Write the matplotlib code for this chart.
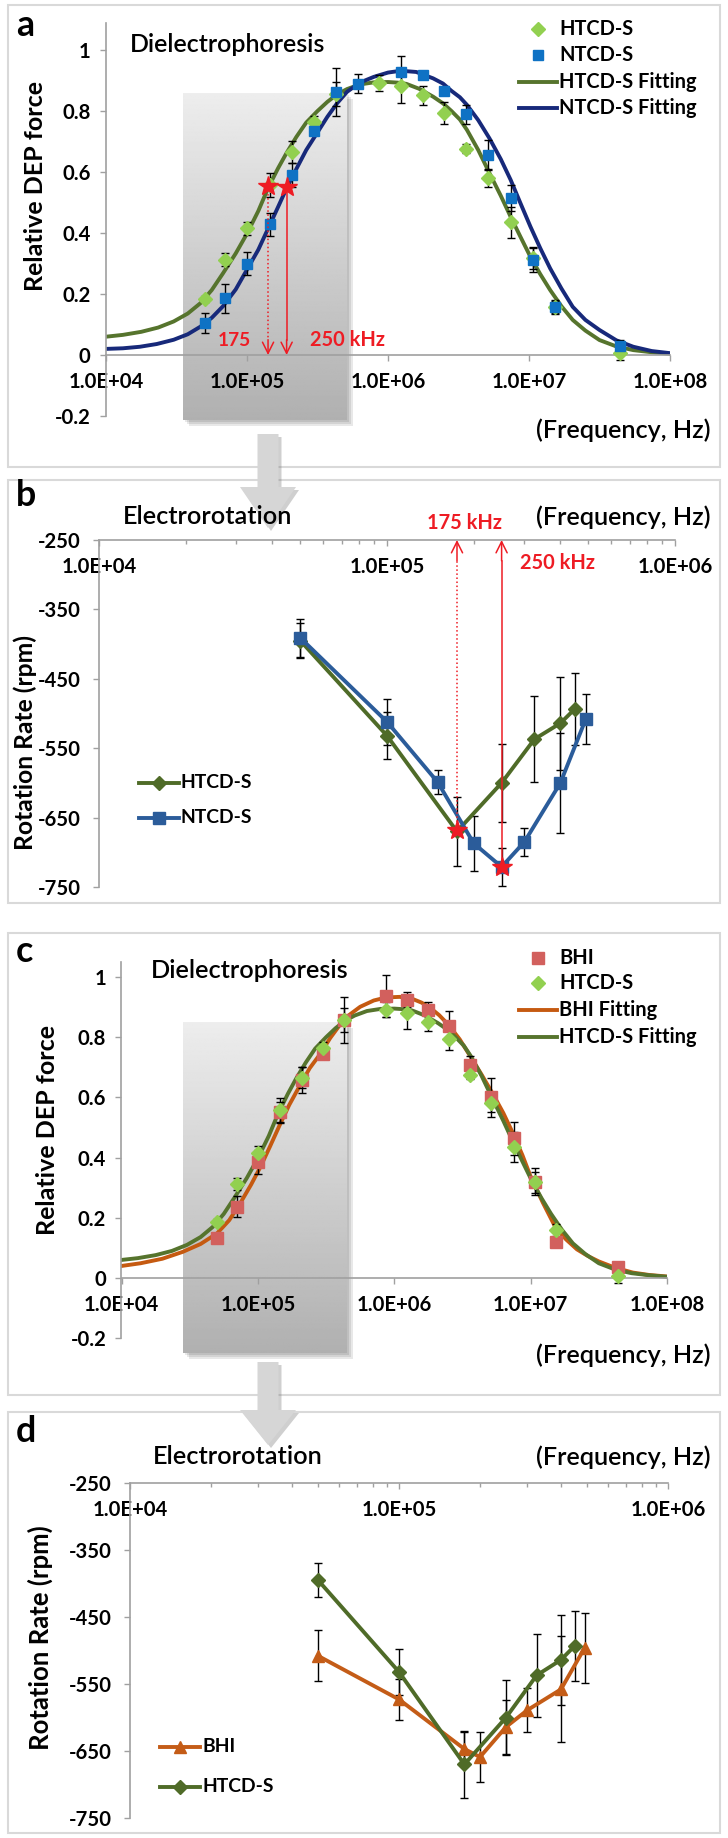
import numpy as np
import matplotlib
matplotlib.use('Agg')
import matplotlib.pyplot as plt
from matplotlib.patches import Rectangle, Polygon
from matplotlib.lines import Line2D
from matplotlib.ticker import FixedLocator, FuncFormatter, NullLocator, LogLocator, NullFormatter

# ---- data ---------------------------------------------------------------
# DEP spectra (panels a and c), frequencies in Hz
dep_freq = [50e3, 70e3, 100e3, 145e3, 210e3, 300e3, 430e3, 615e3, 870e3,
            1.23e6, 1.76e6, 2.5e6, 3.6e6, 5.15e6, 7.5e6, 10.7e6, 15.3e6, 44e6]
htcd_dep = [0.185, 0.313, 0.415, 0.558, 0.665, 0.763, 0.856, np.nan, 0.892,
            0.882, 0.851, 0.793, 0.676, 0.580, 0.435, 0.318, 0.158, 0.005]
htcd_dep_err = [0.01, 0.02, 0.022, 0.04, 0.035, 0.02, 0.04, 0.0, 0.025,
                0.055, 0.03, 0.035, 0.015, 0.03, 0.05, 0.035, 0.02, 0.02]
ntcd_dep = [0.106, 0.186, 0.300, 0.429, 0.590, 0.734, 0.863, 0.890, np.nan,
            0.929, 0.918, 0.867, 0.789, 0.656, 0.514, 0.311, 0.157, 0.030]
ntcd_dep_err = [0.033, 0.048, 0.037, 0.038, 0.04, 0.01, 0.078, 0.03, 0.0,
                0.052, 0.01, 0.01, 0.03, 0.048, 0.043, 0.04, 0.022, 0.02]
bhi_dep = [0.132, 0.237, 0.386, 0.550, 0.658, 0.744, 0.858, np.nan, 0.937,
           0.924, 0.890, 0.837, 0.708, 0.600, 0.464, 0.320, 0.121, 0.038]
bhi_dep_err = [0.015, 0.036, 0.04, 0.035, 0.043, 0.01, 0.077, 0.0, 0.07,
               0.025, 0.028, 0.05, 0.028, 0.065, 0.055, 0.044, 0.015, 0.015]

# fitted curves (log10 Hz, relative force)
htcd_fit_dec = [4.00, 4.12, 4.25, 4.37, 4.48, 4.58, 4.67, 4.75, 4.83, 4.92, 5.00, 5.08,
                5.15, 5.22, 5.28, 5.35, 5.42, 5.50, 5.57, 5.64, 5.71, 5.80, 5.90, 6.00,
                6.07, 6.13, 6.22, 6.32, 6.39, 6.45, 6.51, 6.56, 6.64, 6.72, 6.80, 6.87,
                6.94, 7.01, 7.08, 7.15, 7.23, 7.31, 7.40, 7.50, 7.62, 7.74, 7.87, 8.00]
htcd_fit_val = [0.060, 0.066, 0.076, 0.090, 0.110, 0.136, 0.170, 0.213, 0.268, 0.333,
                0.398, 0.472, 0.548, 0.612, 0.662, 0.715, 0.762, 0.800, 0.830, 0.855,
                0.872, 0.887, 0.894, 0.895, 0.893, 0.889, 0.873, 0.847, 0.825, 0.800,
                0.772, 0.738, 0.672, 0.596, 0.522, 0.453, 0.387, 0.322, 0.265, 0.213,
                0.160, 0.115, 0.080, 0.049, 0.028, 0.016, 0.009, 0.004]
ntcd_fit_dec = [4.00, 4.12, 4.24, 4.36, 4.48, 4.58, 4.67, 4.75, 4.83, 4.92, 5.00, 5.08,
                5.15, 5.22, 5.28, 5.35, 5.42, 5.50, 5.57, 5.64, 5.71, 5.80, 5.90, 6.00,
                6.09, 6.20, 6.32, 6.39, 6.45, 6.51, 6.56, 6.64, 6.72, 6.80, 6.87, 6.94,
                7.01, 7.08, 7.15, 7.23, 7.31, 7.40, 7.50, 7.62, 7.74, 7.87, 8.00]
ntcd_fit_val = [0.020, 0.022, 0.027, 0.036, 0.050, 0.068, 0.093, 0.122, 0.160, 0.215,
                0.280, 0.345, 0.415, 0.485, 0.546, 0.610, 0.672, 0.730, 0.781, 0.826,
                0.863, 0.893, 0.912, 0.926, 0.932, 0.928, 0.907, 0.890, 0.866, 0.845,
                0.820, 0.770, 0.710, 0.642, 0.574, 0.497, 0.421, 0.350, 0.284, 0.218,
                0.158, 0.115, 0.082, 0.048, 0.027, 0.013, 0.006]
bhi_fit_dec = [4.00, 4.14, 4.30, 4.45, 4.58, 4.70, 4.79, 4.87, 4.95, 5.02, 5.09, 5.16,
               5.23, 5.31, 5.38, 5.46, 5.53, 5.60, 5.67, 5.75, 5.85, 5.94, 6.04, 6.14,
               6.20, 6.26, 6.33, 6.40, 6.48, 6.56, 6.64, 6.72, 6.80, 6.87, 6.94, 7.00,
               7.09, 7.18, 7.26, 7.34, 7.42, 7.50, 7.62, 7.75, 7.87, 8.00]
bhi_fit_val = [0.040, 0.049, 0.064, 0.087, 0.113, 0.148, 0.192, 0.248, 0.310, 0.370,
               0.438, 0.508, 0.575, 0.641, 0.697, 0.746, 0.797, 0.840, 0.874, 0.901,
               0.922, 0.932, 0.934, 0.926, 0.915, 0.899, 0.873, 0.840, 0.793, 0.735,
               0.676, 0.614, 0.548, 0.481, 0.408, 0.337, 0.250, 0.170, 0.128, 0.095,
               0.073, 0.055, 0.034, 0.018, 0.010, 0.005]

# crossover markers in panel a
star_a_freq = [141e3, 191e3]
star_a_val = [0.554, 0.552]

# electrorotation (panels b and d), rpm
htcd_rot_freq = [50e3, 100e3, 175e3, 250e3, 325e3, 400e3, 450e3]
htcd_rot = [-395, -532, -670, -600, -537, -514, -493]
htcd_rot_err = [25, 34, 50, 56, 62, 67, 52]
ntcd_rot_freq = [50e3, 100e3, 150e3, 200e3, 250e3, 300e3, 400e3, 490e3]
ntcd_rot = [-391, -512, -599, -687, -721, -685, -600, -508]
ntcd_rot_err = [27, 33, 17, 40, 27, 20, 72, 36]
bhi_rot_freq = [50e3, 100e3, 175e3, 200e3, 250e3, 300e3, 400e3, 490e3]
bhi_rot = [-508, -573, -647, -659, -614, -589, -558, -496]
bhi_rot_err = [38, 31, 25, 38, 40, 33, 79, 52]
star_b_freq = [175e3, 250e3]
star_b_val = [-668, -721]

dep_xticks = [1e4, 1e5, 1e6, 1e7, 1e8]
dep_yticks = [-0.2, 0, 0.2, 0.4, 0.6, 0.8, 1]
dep_ylabels = ['-0.2', '0', '0.2', '0.4', '0.6', '0.8', '1']
rot_xticks = [1e4, 1e5, 1e6]
rot_yticks = [-250, -350, -450, -550, -650, -750]

# ---- style -------------------------------------------------------------
HT_PT = '#92d050'
NT_PT = '#0f72c4'
HT_FIT = '#56742d'
NT_FIT = '#17297a'
BHI_PT = '#d2605d'
BHI_FIT = '#c55a11'
HT_ROT = '#4f6b28'
NT_ROT = '#2b5c9a'
BHI_ROT = '#c45c17'
RED = '#ee1c24'
AXC = '#a0a0a0'

plt.rcParams['font.family'] = ['Lato', 'DejaVu Sans']
plt.rcParams['axes.unicode_minus'] = False

W, H = 728, 1838
fig = plt.figure(figsize=(W / 100, H / 100), dpi=100)
renderer = fig.canvas.get_renderer()


def fx(x):
    return x / W


def fy(y):
    return 1 - y / H


def size_for(s, width, weight='normal'):
    # font size (pt) that makes string s about `width` pixels wide
    t = fig.text(0, 0, s, fontsize=10, fontweight=weight)
    w = t.get_window_extent(renderer=renderer).width
    t.remove()
    return 10 * width / w


TICK_FS = size_for('1.0E+05', 75, 'bold')
TITLE_W = 600


def add_ax(x0, y0, x1, y1, z=2):
    return fig.add_axes([fx(x0), fy(y1), (x1 - x0) / W, (y1 - y0) / H], zorder=z)


def frame(x0, y0, x1, y1):
    fig.add_artist(Rectangle((fx(x0), fy(y1)), (x1 - x0) / W, (y1 - y0) / H,
                             transform=fig.transFigure, fill=False, ec='#d9d9d9',
                             lw=1.5, zorder=0))


def gray_box(x0, y0, x1, y1):
    for off in [2, 4, 6]:
        fig.add_artist(Rectangle((fx(x0 + off), fy(y1 + off)), (x1 - x0) / W, (y1 - y0) / H,
                                 transform=fig.transFigure, fc='black', ec='none',
                                 alpha=0.09, zorder=0.5))
    bax = add_ax(x0, y0, x1, y1, z=1)
    grad = np.linspace(0.93, 0.69, 256)[:, None]
    bax.imshow(grad, cmap='gray', vmin=0, vmax=1, aspect='auto', extent=[0, 1, 0, 1])
    bax.axis('off')


def big_arrow(xc, y_top, y_head, y_tip):
    sw, hw = 10.5, 28
    pts = [(xc - sw, y_top), (xc + sw, y_top), (xc + sw, y_head), (xc + hw, y_head),
           (xc, y_tip), (xc - hw, y_head), (xc - sw, y_head)]
    shadow = [(fx(x + 3), fy(y + 3)) for x, y in pts]
    fig.add_artist(Polygon(shadow, closed=True, transform=fig.transFigure,
                           fc='#777777', ec='none', alpha=0.35, zorder=5))
    fig.add_artist(Polygon([(fx(x), fy(y)) for x, y in pts], closed=True,
                           transform=fig.transFigure, fc='#d6d6d6', ec='none', zorder=6))


def ftext(x, y, s, width=None, fontsize=12, fontweight='normal', **kw):
    kw.setdefault('va', 'center')
    kw.setdefault('zorder', 7)
    if width:
        fontsize = size_for(s, width, fontweight)
    return fig.text(fx(x), fy(y), s, fontsize=fontsize, fontweight=fontweight, **kw)


def legend_row(x0, x1, y, label, color, fs, marker=None, ms=8, line=True):
    xm = (x0 + x1) / 2
    if line:
        fig.add_artist(Line2D([fx(x0), fx(x1)], [fy(y), fy(y)], transform=fig.transFigure,
                              color=color, lw=2.8, zorder=7))
    if marker:
        fig.add_artist(Line2D([fx(xm)], [fy(y)], transform=fig.transFigure, marker=marker,
                              ms=ms, color=color, mec=color, lw=0, zorder=8))
    ftext(x1 + 2, y, label, fontsize=fs, fontweight='bold')


def style_common(ax):
    ax.set_facecolor('none')
    for s in ['top', 'right']:
        ax.spines[s].set_visible(False)
    for s in ['left', 'bottom']:
        ax.spines[s].set_color(AXC)
        ax.spines[s].set_linewidth(1.2)
    for lab in ax.get_xticklabels() + ax.get_yticklabels():
        lab.set_fontweight('bold')


def dep_axes(x0, x1, y_zero, unit, ymax):
    ax = add_ax(x0, y_zero - ymax * unit, x1, y_zero + 0.2 * unit, z=2)
    ax.set_xscale('log')
    ax.set_xlim(1e4, 1e8)
    ax.set_ylim(-0.2, ymax)
    ax.spines['bottom'].set_position(('data', 0))
    ax.xaxis.set_major_locator(FixedLocator(dep_xticks))
    ax.xaxis.set_minor_locator(NullLocator())
    ax.xaxis.set_major_formatter(FuncFormatter(lambda v, p: f'{v:.1E}'))
    ax.set_yticks(dep_yticks)
    ax.set_yticklabels(dep_ylabels)
    ax.tick_params(axis='x', direction='out', length=4, width=1, color=AXC,
                   labelsize=TICK_FS, pad=8)
    ax.tick_params(axis='y', direction='out', length=4, width=1, color=AXC,
                   labelsize=TICK_FS, pad=7)
    style_common(ax)
    return ax


def rot_axes(x0, x1, y_top, y_bot):
    ax = add_ax(x0, y_top, x1, y_bot, z=2)
    ax.set_xscale('log')
    ax.set_xlim(1e4, 1e6)
    ax.set_ylim(-750, -250)
    ax.spines['bottom'].set_position(('data', -250))
    ax.xaxis.set_major_locator(FixedLocator(rot_xticks))
    ax.xaxis.set_minor_locator(LogLocator(base=10, subs=np.arange(2, 10)))
    ax.xaxis.set_minor_formatter(NullFormatter())
    ax.xaxis.set_major_formatter(FuncFormatter(lambda v, p: f'{v:.1E}'))
    ax.set_yticks(rot_yticks)
    ax.tick_params(axis='x', which='major', direction='out', length=4, width=1,
                   color=AXC, labelsize=TICK_FS, pad=8)
    ax.tick_params(axis='x', which='minor', direction='out', length=3, width=1, color=AXC)
    ax.tick_params(axis='y', direction='out', length=4, width=1, color=AXC,
                   labelsize=TICK_FS, pad=9)
    style_common(ax)
    return ax


def ebar(ax, f, v, e, z=3):
    ax.errorbar(f, v, yerr=e, fmt='none', ecolor='black', elinewidth=1,
                capsize=3, capthick=1, zorder=z)


def red_arrow(ax, f, v_from, v_to, v_stub, dotted):
    ax.plot([f, f], [v_from, v_stub], color=RED, lw=1.1, ls=':' if dotted else '-', zorder=5)
    ax.annotate('', xy=(f, v_to), xytext=(f, v_stub),
                arrowprops=dict(arrowstyle='->', color=RED, lw=1.1, shrinkA=0, shrinkB=0,
                                mutation_scale=20), zorder=5)


LEG_FS_DEP = size_for('HTCD-S Fitting', 137, 'bold')
LEG_FS_ROT = size_for('HTCD-S', 72, 'bold')
LETTER_FS = size_for('a', 18, 'bold')
RED_FS = size_for('250 kHz', 75, 'bold')

# ---- frames, boxes, arrows -----------------------------------------------
frame(8, 5, 720, 467)
frame(8, 480, 720, 903)
frame(8, 933, 720, 1395)
frame(8, 1412, 720, 1833)

gray_box(183, 93, 347, 420)
gray_box(183, 1022, 347, 1353)
big_arrow(268, 434, 487, 528)
big_arrow(268, 1362, 1410, 1445)

# ---- panel a -----------------------------------------------------------
ax = dep_axes(106, 670, 355, 305, 1.09)
ax.plot(10 ** np.array(htcd_fit_dec), htcd_fit_val, color=HT_FIT, lw=2.8, zorder=2)
ax.plot(10 ** np.array(ntcd_fit_dec), ntcd_fit_val, color=NT_FIT, lw=2.8, zorder=2)
ebar(ax, dep_freq, htcd_dep, htcd_dep_err)
ebar(ax, dep_freq, ntcd_dep, ntcd_dep_err)
ax.plot(dep_freq, htcd_dep, 'D', color=HT_PT, ms=7, lw=0, zorder=4)
ax.plot(dep_freq, ntcd_dep, 's', color=NT_PT, ms=7.5, lw=0, zorder=4)
for i, (f, v) in enumerate(zip(star_a_freq, star_a_val)):
    red_arrow(ax, f, v, 0, 0.05, i == 0)
ax.plot(star_a_freq, star_a_val, '*', color=RED, ms=15, lw=0, zorder=6)

ftext(16, 26, 'a', fontsize=LETTER_FS, fontweight='bold')
ftext(130, 45, 'Dielectrophoresis', width=195, fontweight=TITLE_W)
ftext(710, 430, '(Frequency, Hz)', width=174, fontweight=TITLE_W, ha='right')
ftext(36, 186, 'Relative DEP force', width=210, fontweight='bold', rotation=90, ha='center')
ftext(218, 340, '175', width=33, fontweight='bold', color=RED)
ftext(310, 340, '250 kHz', fontsize=RED_FS, fontweight='bold', color=RED)
legend_row(519, 557, 29, 'HTCD-S', HT_PT, LEG_FS_DEP, marker='D', ms=7, line=False)
legend_row(519, 557, 55, 'NTCD-S', NT_PT, LEG_FS_DEP, marker='s', ms=7.5, line=False)
legend_row(519, 557, 82, 'HTCD-S Fitting', HT_FIT, LEG_FS_DEP)
legend_row(519, 557, 108, 'NTCD-S Fitting', NT_FIT, LEG_FS_DEP)

# ---- panel b -----------------------------------------------------------
ax = rot_axes(99, 675, 540, 887)
ebar(ax, htcd_rot_freq, htcd_rot, htcd_rot_err)
ebar(ax, ntcd_rot_freq, ntcd_rot, ntcd_rot_err)
ax.plot(htcd_rot_freq, htcd_rot, '-D', color=HT_ROT, lw=2.8, ms=7.5, zorder=4)
ax.plot(ntcd_rot_freq, ntcd_rot, '-s', color=NT_ROT, lw=2.8, ms=8.5, zorder=4)
for i, (f, v) in enumerate(zip(star_b_freq, star_b_val)):
    red_arrow(ax, f, v, -250, -280, i == 0)
ax.plot(star_b_freq, star_b_val, '*', color=RED, ms=15, lw=0, zorder=6)

ftext(16, 495, 'b', fontsize=LETTER_FS, fontweight='bold')
ftext(123, 517, 'Electrorotation', width=169, fontweight=TITLE_W)
ftext(710, 517, '(Frequency, Hz)', width=174, fontweight=TITLE_W, ha='right')
ftext(25, 742, 'Rotation Rate (rpm)', width=215, fontweight='bold', rotation=90, ha='center')
ftext(465, 523, '175 kHz', fontsize=RED_FS, fontweight='bold', color=RED, ha='center')
ftext(558, 563, '250 kHz', fontsize=RED_FS, fontweight='bold', color=RED, ha='center')
legend_row(139, 179, 783, 'HTCD-S', HT_ROT, LEG_FS_ROT, marker='D', ms=7.5)
legend_row(139, 179, 818, 'NTCD-S', NT_ROT, LEG_FS_ROT, marker='s', ms=8.5)

# ---- panel c -----------------------------------------------------------
ax = dep_axes(121.5, 667, 1278, 301, 1.05)
ax.plot(10 ** np.array(bhi_fit_dec), bhi_fit_val, color=BHI_FIT, lw=2.8, zorder=2)
ax.plot(10 ** np.array(htcd_fit_dec), htcd_fit_val, color=HT_FIT, lw=2.8, zorder=2)
ebar(ax, dep_freq, bhi_dep, bhi_dep_err)
ebar(ax, dep_freq, htcd_dep, htcd_dep_err)
ax.plot(dep_freq, bhi_dep, 's', color=BHI_PT, ms=8.5, lw=0, zorder=4)
ax.plot(dep_freq, htcd_dep, 'D', color=HT_PT, ms=7, lw=0, zorder=4)

ftext(16, 951, 'c', fontsize=LETTER_FS, fontweight='bold')
ftext(151, 970, 'Dielectrophoresis', width=197, fontweight=TITLE_W)
ftext(710, 1355, '(Frequency, Hz)', width=174, fontweight=TITLE_W, ha='right')
ftext(48, 1130, 'Relative DEP force', width=210, fontweight='bold', rotation=90, ha='center')
legend_row(519, 557, 958, 'BHI', BHI_PT, LEG_FS_DEP, marker='s', ms=8.5, line=False)
legend_row(519, 557, 983, 'HTCD-S', HT_PT, LEG_FS_DEP, marker='D', ms=7, line=False)
legend_row(519, 557, 1010, 'BHI Fitting', BHI_FIT, LEG_FS_DEP)
legend_row(519, 557, 1037, 'HTCD-S Fitting', HT_FIT, LEG_FS_DEP)

# ---- panel d -----------------------------------------------------------
ax = rot_axes(130, 668, 1483, 1818)
ebar(ax, bhi_rot_freq, bhi_rot, bhi_rot_err)
ebar(ax, htcd_rot_freq, htcd_rot, htcd_rot_err)
ax.plot(bhi_rot_freq, bhi_rot, '-^', color=BHI_ROT, lw=2.8, ms=9, zorder=4)
ax.plot(htcd_rot_freq, htcd_rot, '-D', color=HT_ROT, lw=2.8, ms=7.5, zorder=4)

ftext(16, 1432, 'd', fontsize=LETTER_FS, fontweight='bold')
ftext(153, 1457, 'Electrorotation', width=170, fontweight=TITLE_W)
ftext(710, 1457, '(Frequency, Hz)', width=174, fontweight=TITLE_W, ha='right')
ftext(40, 1638, 'Rotation Rate (rpm)', width=225, fontweight='bold', rotation=90, ha='center')
legend_row(160, 200, 1747, 'BHI', BHI_ROT, LEG_FS_ROT, marker='^', ms=9)
legend_row(160, 200, 1787, 'HTCD-S', HT_ROT, LEG_FS_ROT, marker='D', ms=7.5)

fig.savefig('out.png', dpi=100)
